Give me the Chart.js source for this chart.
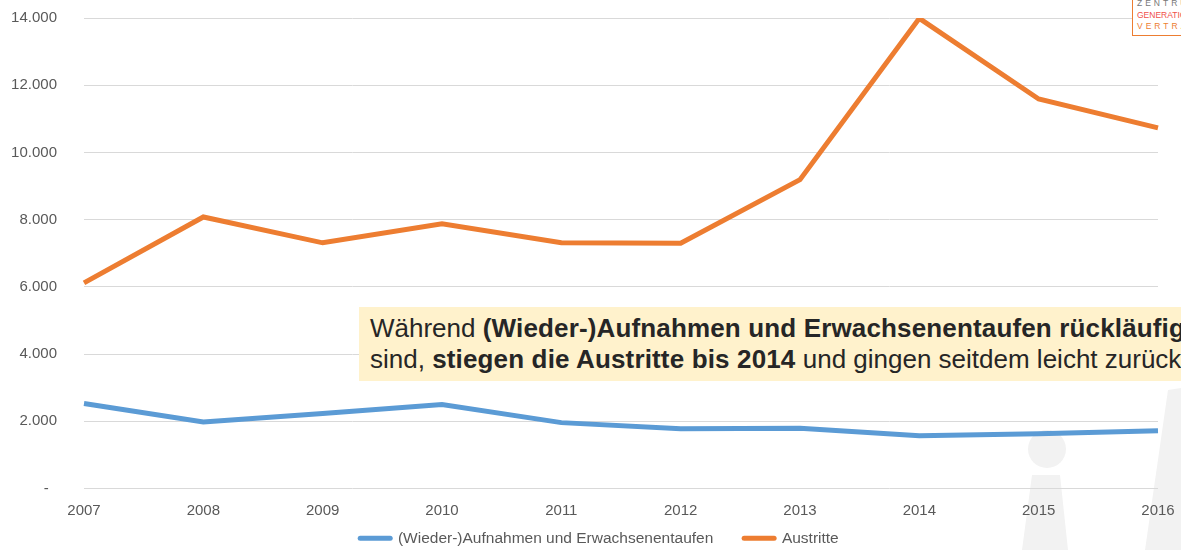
<!DOCTYPE html>
<html>
<head>
<meta charset="utf-8">
<script src="https://cdn.jsdelivr.net/npm/chart.js@4.4.0/dist/chart.umd.min.js"></script>
<style>
  html, body { margin: 0; padding: 0; background: #fff; }
  body { width: 1181px; height: 550px; position: relative; overflow: hidden; font-family: "Liberation Sans", Arial, sans-serif; }
  #chart { position: absolute; left: 0; top: 0; }
  .note {
    position: absolute; left: 359px; top: 307px; width: 900px;
    padding: 6px 0 6px 11px; background: #FFF2CC; color: #262626;
    font-size: 26px; line-height: 31px; white-space: nowrap;
  }
  .note b { letter-spacing: 0.15px; }
  .logo {
    position: absolute; left: 1132px; top: -3px; width: 80px; height: 39px;
    border: 1px solid #ED7D31; background: #fff; font-size: 8.5px; line-height: 11.5px;
    padding-left: 4px; box-sizing: border-box; letter-spacing: 3px;
  }
</style>
</head>
<body>
<canvas id="chart" width="1181" height="550"></canvas>
<div class="note">Während <b>(Wieder-)Aufnahmen und Erwachsenentaufen rückläufig</b><br>sind, <b>stiegen die Austritte bis 2014</b> und gingen seitdem leicht zurück.</div>
<div class="logo">
  <div style="color:#777;">ZENTRUM</div>
  <div style="color:#F0504A;letter-spacing:0;">GENERATIONEN</div>
  <div style="color:#ED7D31;">VERTRAG</div>
</div>
<script>
// Data
const years = ["2007", "2008", "2009", "2010", "2011", "2012", "2013", "2014", "2015", "2016"];
const aufnahmen = [2530, 1980, 2230, 2500, 1960, 1780, 1790, 1570, 1630, 1720];
const austritte = [6120, 8080, 7310, 7880, 7310, 7300, 9190, 13990, 11590, 10730];
const seriesNames = ["(Wieder-)Aufnahmen und Erwachsenentaufen", "Austritte"];

const BLUE = "#5B9BD5";
const ORANGE = "#ED7D31";
const GREY_TEXT = "#595959";

// grey "i" watermark behind the plot
const watermark = {
  id: "watermark",
  beforeDraw(chart) {
    const ctx = chart.ctx;
    ctx.save();
    ctx.fillStyle = "#F2F2F2";
    ctx.beginPath();
    ctx.arc(1047, 449, 19, 0, 2 * Math.PI);
    ctx.fill();
    ctx.beginPath();
    ctx.moveTo(1032, 475);
    ctx.lineTo(1060, 475);
    ctx.lineTo(1068, 550);
    ctx.lineTo(1022, 550);
    ctx.closePath();
    ctx.fill();
    ctx.beginPath();
    ctx.moveTo(1168, 390);
    ctx.lineTo(1181, 388);
    ctx.lineTo(1181, 550);
    ctx.lineTo(1145, 550);
    ctx.closePath();
    ctx.fill();
    ctx.restore();
  }
};

new Chart(document.getElementById("chart"), {
  type: "line",
  data: {
    labels: years,
    datasets: [
      {
        label: seriesNames[0],
        data: aufnahmen,
        borderColor: BLUE,
        backgroundColor: BLUE,
        borderWidth: 5,
        pointRadius: 0,
        tension: 0
      },
      {
        label: seriesNames[1],
        data: austritte,
        borderColor: ORANGE,
        backgroundColor: ORANGE,
        borderWidth: 5,
        pointRadius: 0,
        tension: 0
      }
    ]
  },
  options: {
    responsive: false,
    animation: false,
    layout: { padding: { left: 0, top: 18, right: 23, bottom: -6 } },
    plugins: {
      tooltip: { enabled: false },
      legend: {
        position: "bottom",
        fullSize: false,
        labels: {
          color: GREY_TEXT,
          font: { family: "Liberation Sans", size: 15.5 },
          usePointStyle: true,
          pointStyle: "line",
          pointStyleWidth: 30,
          padding: 5,
          generateLabels(chart) {
            const items = Chart.defaults.plugins.legend.labels.generateLabels(chart);
            items.forEach((it, i) => {
              it.lineCap = "round";
              it.pointStyle = "line";
              // spacing tweaks so the items sit where the original legend had them
              it.text = it.text + (i === 0 ? "      " : "          ");
            });
            return items;
          }
        }
      }
    },
    scales: {
      x: {
        offset: false,
        grid: { display: false, drawTicks: false },
        border: { display: false },
        ticks: {
          color: GREY_TEXT,
          font: { family: "Liberation Sans", size: 15 },
          padding: 13,
          maxRotation: 0,
          autoSkip: false
        },
        afterFit(scale) {
          scale.height = 37;
          scale.paddingLeft = 0;
          scale.paddingRight = 0;
        }
      },
      y: {
        min: 0,
        max: 14000,
        grid: { color: "#D9D9D9", lineWidth: 1, drawTicks: false },
        border: { display: false },
        ticks: {
          stepSize: 2000,
          color: GREY_TEXT,
          font: { family: "Liberation Sans", size: 15 },
          padding: 27,
          callback: (v) => v === 0 ? "-  " : v.toLocaleString("de-DE")
        },
        afterFit(scale) {
          scale.width = 84;
          scale.paddingTop = 0;
          scale.paddingBottom = 0;
        }
      }
    }
  },
  plugins: [watermark]
});
</script>
</body>
</html>
